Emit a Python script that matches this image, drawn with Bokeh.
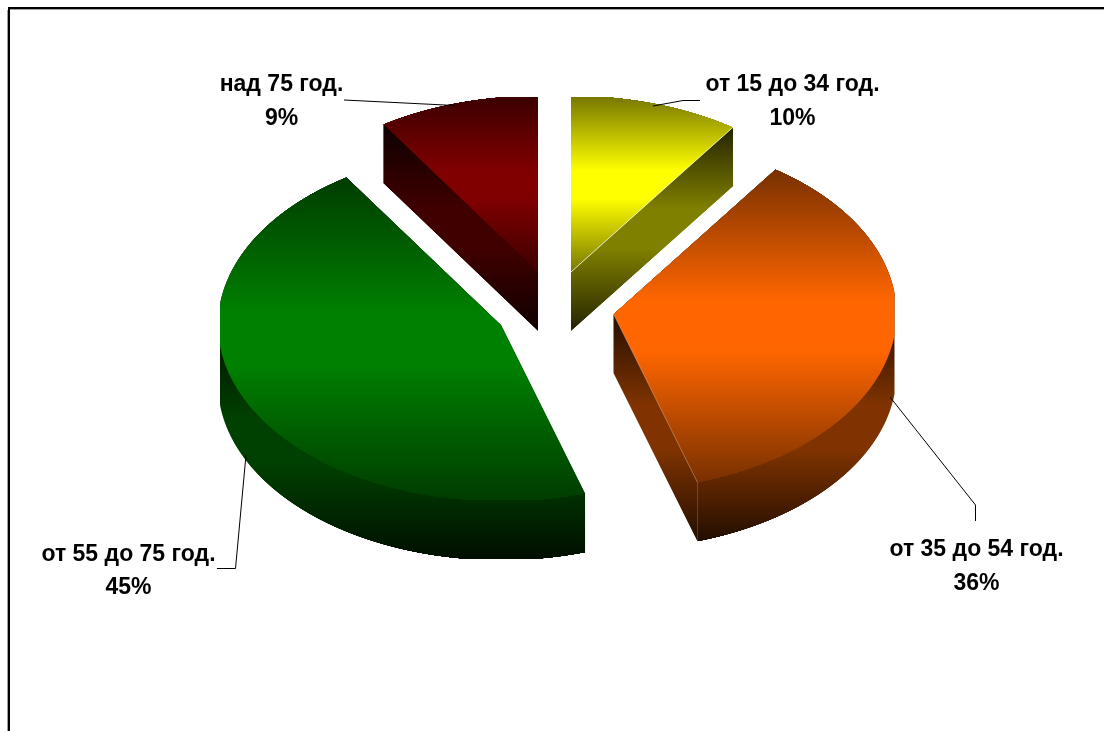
import numpy as np
from bokeh.plotting import figure
from bokeh.models import Range1d, ColumnDataSource
from bokeh.core.properties import value
from bokeh.embed import file_html
from bokeh.resources import INLINE

# --- data ---
categories = ["от 15 до 34 год.", "от 35 до 54 год.", "от 55 до 75 год.", "над 75 год."]
shares = [9.7, 35.5, 45.6, 9.2]
percent_labels = ["10%", "36%", "45%", "9%"]

# --- style / layout ---
W, H = 1104, 731
base_colors = [(255, 255, 0), (255, 102, 0), (0, 128, 0), (128, 0, 0)]
apex_x = [571, 613.5, 501, 538]
apex_y = [272, 314, 325, 272]
side_span = [(127, 331), (314, 540), (325, 557), (127, 331)]
side_end_shade = [0.14, 0.14, 0.12, 0.12]
label_x = [792.5, 976.5, 128.5, 281.5]
label_y1 = [82.5, 547.5, 552.5, 82.5]
label_y2 = [116.5, 581.5, 585.5, 116.5]
leaders = [
    ([653, 683, 700], [106, 100.5, 100.5]),
    ([890, 975.5, 975.5], [397, 505, 521]),
    ([246, 235.5, 217], [455, 568.5, 568.5]),
    ([344, 455], [100, 105.5]),
]
RX, RY, EX, EY, DEPTH = 281, 175, 283, 176.5, 59


def wedge_polygon(i):
    edges = np.cumsum([0] + shares) / sum(shares) * 2 * np.pi
    t = np.linspace(edges[i], edges[i + 1], 160)
    x = apex_x[i] + np.clip(EX * np.sin(t), -RX, RX)
    y = apex_y[i] + np.clip(-EY * np.cos(t), -RY, RY)
    return np.r_[apex_x[i], x], np.r_[apex_y[i], y]


def hull(px, py):
    pts = sorted(set(zip(px.tolist(), py.tolist())))
    def half(seq):
        out = []
        for p in seq:
            while len(out) > 1 and ((out[-1][0] - out[-2][0]) * (p[1] - out[-2][1])
                                    - (out[-1][1] - out[-2][1]) * (p[0] - out[-2][0])) <= 0:
                out.pop()
            out.append(p)
        return out[:-1]
    h = half(pts) + half(pts[::-1])
    return np.array([q[0] for q in h]), np.array([q[1] for q in h])


def scan(px, py):
    """x interval of a convex polygon on every pixel row"""
    rows = []
    x0, y0 = np.asarray(px), np.asarray(py)
    x1, y1 = np.roll(x0, -1), np.roll(y0, -1)
    for r in range(int(np.floor(y0.min())), int(np.ceil(y0.max()))):
        yc = np.clip(r + 0.5, y0.min(), y0.max())
        m = ((y0 <= yc) & (y1 > yc)) | ((y1 <= yc) & (y0 > yc))
        if not m.any():
            continue
        xs = x0[m] + (yc - y0[m]) / (y1[m] - y0[m]) * (x1[m] - x0[m])
        rows.append((r, xs.min(), xs.max()))
    return rows


def shade(y, lo, hi, mid_f, end_f, plateau):
    t = abs((y + 0.5) - (lo + hi) / 2) / ((hi - lo) / 2)
    t = min(max((t - plateau) / (1 - plateau), 0), 1)
    return mid_f + (end_f - mid_f) * t


def hexcol(c, f):
    return "#%02x%02x%02x" % tuple(int(round(v * f)) for v in c)


L, R, T, B, C = [], [], [], [], []


def add_rows(rows, col, lo, hi, mid_f, end_f, plateau):
    for r, a, b in rows:
        L.append(a); R.append(b); T.append(r); B.append(r + 1)
        C.append(hexcol(col, shade(r, lo, hi, mid_f, end_f, plateau)))


seams_x, seams_y, seams_c, seams_a = [], [], [], []
for i in range(4):
    px, py = wedge_polygon(i)
    hx, hy = hull(np.r_[px, px], np.r_[py, py + DEPTH])
    lo, hi = side_span[i]
    add_rows(scan(hx, hy), base_colors[i], lo, hi, 0.5, side_end_shade[i], 0.2)
for i in range(4):
    px, py = wedge_polygon(i)
    add_rows(scan(px, py), base_colors[i], py.min(), py.max(), 1.0, 0.47, 0.16)

# light seams where faces meet
for i, a in {0: 0.8, 1: 0.3}.items():
    px, py = wedge_polygon(i)
    seams_x.append([px[0], px[-1]]); seams_y.append([py[0], py[-1]])
    seams_c.append("#ffffff"); seams_a.append(a)
px, py = wedge_polygon(1)
seams_x.append([px[-1], px[-1]]); seams_y.append([py[-1], py[-1] + DEPTH])
seams_c.append("#ffffff"); seams_a.append(0.18)

# Bokeh paints with a half-pixel translate; the ranges cancel it so rows land on whole pixels
p = figure(width=W, height=H, x_range=Range1d(0.5, W + 0.5), y_range=Range1d(H + 0.5, 0.5),
           toolbar_location=None, output_backend="svg", min_border=0,
           background_fill_color="white", border_fill_color="white",
           styles={"position": "fixed", "left": "0", "top": "0"})
p.xaxis.visible = False
p.yaxis.visible = False
p.grid.visible = False
p.outline_line_color = None

# outer frame
p.line([7.5, 7.5], [10, H], line_color="#a0a0a0", line_width=1)
p.line([8, W], [9.5, 9.5], line_color="#a0a0a0", line_width=1)
p.line([9, 9, W], [H, 8, 8], line_color="black", line_width=2, line_join="miter")

p.quad(left="l", right="r", top="t", bottom="b", fill_color="c", fill_alpha=1.0,
       line_color=None, source=ColumnDataSource(dict(l=L, r=R, t=T, b=B, c=C)))
p.multi_line(seams_x, seams_y, line_color=seams_c, line_alpha=seams_a, line_width=1)

for lx, ly in leaders:
    p.line(lx, ly, line_color="black", line_width=1)

p.text(label_x + label_x, label_y1 + label_y2, text=categories + percent_labels,
       text_font=value("Liberation Sans"), text_font_style="bold", text_font_size="23px",
       text_color="black", text_align="center", text_baseline="middle")

open("out.html", "w").write(file_html(p, INLINE))
